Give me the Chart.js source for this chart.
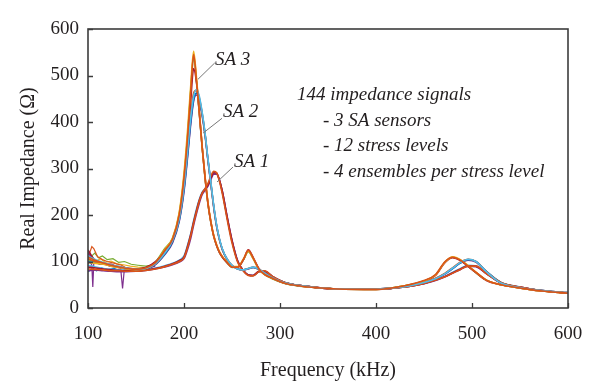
<!DOCTYPE html>
<html>
<head>
<meta charset="utf-8">
<script src="https://cdn.jsdelivr.net/npm/chart.js@4/dist/chart.umd.min.js"></script>
<style>
  html, body { margin: 0; padding: 0; background: #ffffff; }
  #wrap { width: 600px; height: 392px; }
</style>
</head>
<body>
<div id="wrap"><canvas id="c" width="600" height="392"></canvas></div>
<script>
// ---------- DATA ----------
const freqs = [100,108,116,124,132,140,150,160,170,180,188,195,200,204,207,210,213,216,219,222,225,228,231,234,237,240,245,250,256,262,267,272,278,284,292,305,330,360,400,430,450,462,472,480,488,496,504,515,530,550,570,600];

// SA 3 sensor signals (sharp peak near 210 kHz)
const sa3Orange = [110,102,97,92,88,85,83,86,97,124,148,200,280,375,465,545,490,420,345,280,225,185,155,135,120,110,98,88,88,105,124,108,84,72,64,53,45,41,40,48,59,72,100,109,103,90,77,60,50,43,37,32];
const sa3Yellow = [98,96,94,90,87,84,82,85,96,126,150,205,290,390,478,552,495,422,346,281,226,186,156,136,121,111,99,89,89,106,122,107,83,72,64,53,45,41,40,48,58,71,99,110,104,91,77,60,50,43,37,32];
const sa3Red    = [125,100,95,94,87,86,84,87,99,122,145,195,270,360,445,515,485,418,344,279,224,184,154,134,119,109,97,88,88,104,125,109,85,73,64,53,45,41,40,47,58,70,98,108,102,89,76,59,50,43,37,32];
const sa3Green  = [104,99,96,91,89,85,84,86,98,128,150,203,282,378,468,540,488,418,343,278,223,184,154,134,119,109,97,87,88,104,121,106,83,72,63,53,45,41,40,48,58,71,99,109,103,90,76,60,50,43,37,32];

// SA 2 sensor signals (peak near 213 kHz, wider)
const sa2Cyan   = [112,104,98,93,89,86,83,85,95,118,145,192,262,345,410,455,470,455,420,375,320,270,220,178,148,127,105,92,84,82,85,88,84,75,65,54,46,41,41,46,55,63,74,86,98,105,100,78,54,44,38,33];
const sa2Blue   = [100,97,95,91,88,85,83,85,94,116,142,188,255,335,400,448,462,449,416,373,318,268,218,176,147,126,104,91,84,82,85,87,83,75,65,54,46,41,41,46,55,63,74,85,97,104,100,79,55,44,38,33];
const sa2Purple = [118,101,96,90,89,84,82,84,93,115,140,186,250,330,395,445,458,444,412,370,316,266,216,175,146,125,104,91,84,82,84,87,83,75,65,54,46,41,41,46,55,63,73,85,97,103,99,78,55,44,38,33];
const sa2Orange = [106,100,96,92,88,85,83,85,95,119,146,195,266,350,415,462,468,452,418,373,318,268,218,177,147,126,105,92,84,82,85,88,84,75,65,54,46,41,41,46,56,64,75,87,99,105,100,78,55,44,38,33];

// SA 1 sensor signals (peak near 232 kHz)
const sa1DarkRed = [88,86,84,82,81,80,80,82,85,90,95,102,110,135,158,185,210,232,248,256,265,280,291,290,275,250,195,145,100,80,71,70,79,79,68,55,46,41,41,45,53,60,68,76,84,91,90,74,54,45,38,32];
const sa1Orange  = [84,83,82,80,80,79,79,81,84,89,94,100,108,132,155,182,207,230,247,257,268,284,294,291,272,245,190,140,98,79,70,69,78,80,68,55,46,41,41,45,53,60,67,75,83,90,90,74,55,45,38,32];
const sa1Purple  = [80,82,80,79,78,78,79,81,84,88,93,99,106,128,150,178,203,226,244,253,262,276,288,288,274,250,196,146,101,80,71,70,78,79,68,55,46,41,41,45,52,59,67,75,83,90,89,74,54,45,38,32];
const sa1Cyan    = [92,88,85,83,82,81,80,82,86,91,96,103,112,137,160,188,213,234,249,257,266,281,290,289,274,249,194,144,100,80,71,70,78,79,68,55,46,41,41,45,53,60,68,77,85,92,91,75,55,45,38,32];

// noisy low-frequency fragments
const noiseFreqA = [100,102,104,105,106,108,112,118,124,130,134,136,138,142,150,160,170];
const noiseValsA = [95,100,92,45,96,98,94,96,90,88,86,42,87,84,82,84,90];
const noiseFreqB = [100,102,104,106,110,115,120,128,135,140,150,160];
const noiseValsB = [115,120,132,128,110,104,100,96,92,86,84,86];
const noiseFreqC = [100,103,107,111,115,120,126,132,138,145,152,160,168];
const noiseValsC = [122,110,118,108,112,104,106,98,100,94,92,90,92];
const noiseFreqD = [100,104,108,113,118,124,130,137,144,152,160];
const noiseValsD = [105,112,100,106,98,101,95,93,90,88,87];
const noiseFreqE = [100,104,109,114,120,127,134,141,149,157,165];
const noiseValsE = [78,84,80,86,82,85,80,83,79,82,84];

const xTicks = [100,200,300,400,500,600];
const yTicks = [0,100,200,300,400,500,600];

// ---------- CHART ----------
const FONT = "'Liberation Serif', 'Times New Roman', serif";
const TXT = '#231f20';

function pts(fx, vals) { return fx.map((f, i) => ({ x: f, y: vals[i] })); }

const seriesDefs = [
  { v: sa3Orange,  c: '#D95319' },
  { v: sa2Cyan,    c: '#4DBEEE' },
  { v: sa1Orange,  c: '#D95319' },
  { v: sa3Yellow,  c: '#EDB120' },
  { v: sa2Orange,  c: '#D95319' },
  { v: sa1DarkRed, c: '#A2142F' },
  { v: sa3Red,     c: '#A2142F' },
  { v: sa2Blue,    c: '#0072BD' },
  { v: sa1Purple,  c: '#7E2F8E' },
  { v: sa3Green,   c: '#77AC30' },
  { v: sa2Purple,  c: '#7E2F8E' },
  { v: sa1Cyan,    c: '#4DBEEE' }
];

const datasets = seriesDefs.map(s => ({
  data: pts(freqs, s.v),
  borderColor: s.c,
  borderWidth: 1.6,
  pointRadius: 0,
  fill: false,
  cubicInterpolationMode: 'monotone'
}));
const noiseDefs = [
  { f: noiseFreqA, v: noiseValsA, c: '#7E2F8E' },
  { f: noiseFreqB, v: noiseValsB, c: '#D95319' },
  { f: noiseFreqC, v: noiseValsC, c: '#77AC30' },
  { f: noiseFreqD, v: noiseValsD, c: '#EDB120' },
  { f: noiseFreqE, v: noiseValsE, c: '#0072BD' }
];
noiseDefs.forEach(n => datasets.push({ data: pts(n.f, n.v), borderColor: n.c, borderWidth: 1.2, pointRadius: 0, fill: false, tension: 0 }));

// annotation labels in data coordinates
const labels = [
  { t: 'SA 3', x: 232.3, y: 522, lx1: 232.0, ly1: 527, lx2: 214.6, ly2: 492 },
  { t: 'SA 2', x: 240.6, y: 411, lx1: 239.6, ly1: 408, lx2: 219.8, ly2: 376 },
  { t: 'SA 1', x: 252.0, y: 303, lx1: 251.0, ly1: 303, lx2: 234.4, ly2: 271 }
];
const noteLines = ['144 impedance signals', '- 3 SA sensors', '- 12 stress levels', '- 4 ensembles per stress level'];

const decor = {
  id: 'decor',
  afterDraw(chart) {
    const { ctx, chartArea: a, scales: { x, y } } = chart;
    ctx.save();
    // frame
    ctx.strokeStyle = '#3c3c3c';
    ctx.lineWidth = 1.6;
    ctx.strokeRect(a.left, a.top, a.right - a.left, a.bottom - a.top);
    // inward ticks
    ctx.lineWidth = 1.3;
    ctx.beginPath();
    xTicks.forEach(v => { const px = Math.round(x.getPixelForValue(v)) + 0.5; ctx.moveTo(px, a.bottom); ctx.lineTo(px, a.bottom - 5); });
    yTicks.forEach(v => { const py = Math.round(y.getPixelForValue(v)) + 0.5; ctx.moveTo(a.left, py); ctx.lineTo(a.left + 5, py); });
    ctx.stroke();
    // leader lines
    ctx.strokeStyle = '#777777';
    ctx.lineWidth = 1;
    ctx.beginPath();
    labels.forEach(l => {
      ctx.moveTo(x.getPixelForValue(l.lx1), y.getPixelForValue(l.ly1));
      ctx.lineTo(x.getPixelForValue(l.lx2), y.getPixelForValue(l.ly2));
    });
    ctx.stroke();
    // labels
    ctx.fillStyle = TXT;
    ctx.font = "italic 19px " + FONT;
    ctx.textBaseline = 'alphabetic';
    ctx.textAlign = 'left';
    labels.forEach(l => ctx.fillText(l.t, x.getPixelForValue(l.x), y.getPixelForValue(l.y)));
    // note block
    const nx = x.getPixelForValue(317.7), ny = y.getPixelForValue(447);
    noteLines.forEach((s, i) => ctx.fillText(s, nx + (i === 0 ? 0 : 26), ny + i * 25.5));
    ctx.restore();
  }
};

new Chart(document.getElementById('c'), {
  type: 'line',
  data: { datasets },
  options: {
    responsive: false,
    animation: false,
    devicePixelRatio: 1,
    layout: { padding: { top: 29, right: 32, left: 0, bottom: 0 } },
    plugins: { legend: { display: false }, tooltip: { enabled: false } },
    scales: {
      x: {
        type: 'linear', min: 100, max: 600,
        afterBuildTicks: s => { s.ticks = xTicks.map(v => ({ value: v })); },
        afterFit: s => { s.height = 84; },
        grid: { display: false },
        border: { display: false },
        ticks: { color: TXT, font: { family: FONT, size: 19 }, padding: 7, maxRotation: 0 },
        title: { display: true, text: 'Frequency (kHz)', color: TXT, font: { family: FONT, size: 20 }, padding: { top: 0, bottom: 9 } }
      },
      y: {
        type: 'linear', min: 0, max: 600,
        afterBuildTicks: s => { s.ticks = yTicks.map(v => ({ value: v })); },
        afterFit: s => { s.width = 88; },
        grid: { display: false, drawTicks: false },
        border: { display: false },
        ticks: { color: TXT, font: { family: FONT, size: 19 }, padding: 9 },
        title: { display: true, text: 'Real Impedance (Ω)', color: TXT, font: { family: FONT, size: 20 }, padding: { top: 17, bottom: 0 } }
      }
    }
  },
  plugins: [decor]
});
</script>
</body>
</html>
